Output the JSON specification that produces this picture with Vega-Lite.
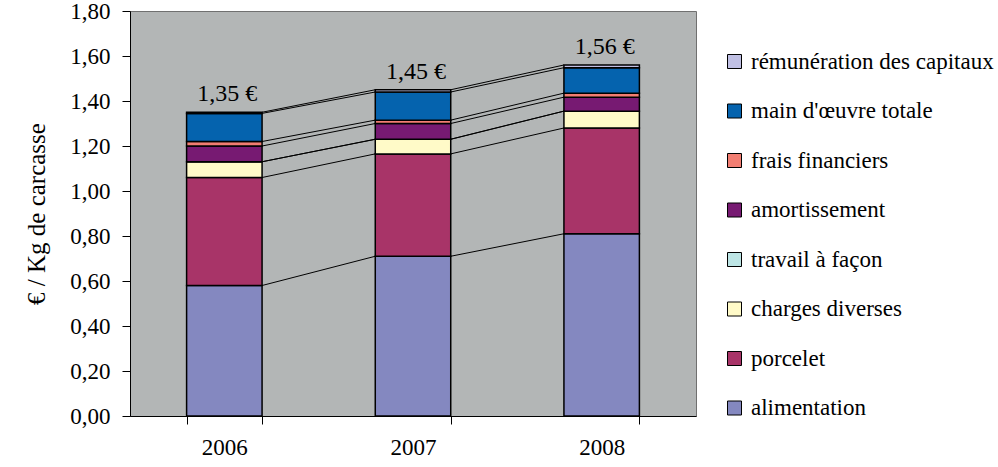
{
  "$schema": "https://vega.github.io/schema/vega-lite/v6.json",
  "width": 566,
  "height": 405,
  "autosize": "none",
  "padding": {"left": 130, "top": 11, "right": 302, "bottom": 51},
  "background": "#ffffff",
  "data": {
    "values": [
      {"annee": "2006", "serie": "alimentation", "ordre": 1, "valeur": 0.58},
      {"annee": "2006", "serie": "porcelet", "ordre": 2, "valeur": 0.48},
      {"annee": "2006", "serie": "charges diverses", "ordre": 3, "valeur": 0.07},
      {"annee": "2006", "serie": "travail à façon", "ordre": 4, "valeur": 0.0},
      {"annee": "2006", "serie": "amortissement", "ordre": 5, "valeur": 0.07},
      {"annee": "2006", "serie": "frais financiers", "ordre": 6, "valeur": 0.02},
      {"annee": "2006", "serie": "main d'œuvre totale", "ordre": 7, "valeur": 0.125},
      {"annee": "2006", "serie": "rémunération des capitaux", "ordre": 8, "valeur": 0.005},
      {"annee": "2007", "serie": "alimentation", "ordre": 1, "valeur": 0.71},
      {"annee": "2007", "serie": "porcelet", "ordre": 2, "valeur": 0.455},
      {"annee": "2007", "serie": "charges diverses", "ordre": 3, "valeur": 0.065},
      {"annee": "2007", "serie": "travail à façon", "ordre": 4, "valeur": 0.0},
      {"annee": "2007", "serie": "amortissement", "ordre": 5, "valeur": 0.07},
      {"annee": "2007", "serie": "frais financiers", "ordre": 6, "valeur": 0.015},
      {"annee": "2007", "serie": "main d'œuvre totale", "ordre": 7, "valeur": 0.125},
      {"annee": "2007", "serie": "rémunération des capitaux", "ordre": 8, "valeur": 0.01},
      {"annee": "2008", "serie": "alimentation", "ordre": 1, "valeur": 0.81},
      {"annee": "2008", "serie": "porcelet", "ordre": 2, "valeur": 0.47},
      {"annee": "2008", "serie": "charges diverses", "ordre": 3, "valeur": 0.075},
      {"annee": "2008", "serie": "travail à façon", "ordre": 4, "valeur": 0.0},
      {"annee": "2008", "serie": "amortissement", "ordre": 5, "valeur": 0.062},
      {"annee": "2008", "serie": "frais financiers", "ordre": 6, "valeur": 0.018},
      {"annee": "2008", "serie": "main d'œuvre totale", "ordre": 7, "valeur": 0.113},
      {"annee": "2008", "serie": "rémunération des capitaux", "ordre": 8, "valeur": 0.012}
    ]
  },
  "transform": [
    {"stack": "valeur", "groupby": ["annee"], "sort": [{"field": "ordre", "order": "ascending"}], "as": ["y0", "y1"]}
  ],
  "layer": [
    {
      "transform": [
        {"window": [{"op": "lead", "field": "y1", "as": "y1n"}, {"op": "lead", "field": "annee", "as": "anneeN"}], "groupby": ["serie"], "sort": [{"field": "annee", "order": "ascending"}], "frame": [null, null]},
        {"filter": "datum.anneeN != null"}
      ],
      "mark": {"type": "rule", "stroke": "#000000", "strokeWidth": 1},
      "encoding": {
        "x": {"field": "annee", "type": "ordinal", "bandPosition": 1, "scale": {"paddingInner": 0.6, "paddingOuter": 0.3},
              "axis": {"title": null, "labelAngle": 0, "tickBand": "extent", "labelPadding": 12}},
        "x2": {"field": "anneeN", "bandPosition": 0},
        "y": {"field": "y1", "type": "quantitative", "scale": {"domain": [0, 1.8], "nice": false},
              "axis": {"title": "€ / Kg de carcasse", "values": [0, 0.2, 0.4, 0.6, 0.8, 1.0, 1.2, 1.4, 1.6, 1.8], "labelExpr": "replace(format(datum.value, '.2f'), '.', ',')", "labelPadding": 12, "titlePadding": 20}},
        "y2": {"field": "y1n"}
      }
    },
    {
      "mark": {"type": "bar", "stroke": "#000000", "strokeWidth": 1.5},
      "encoding": {
        "x": {"field": "annee", "type": "ordinal", "scale": {"paddingInner": 0.6, "paddingOuter": 0.3},
              "axis": {"title": null, "labelAngle": 0, "tickBand": "extent", "labelPadding": 12}},
        "y": {"field": "y0", "type": "quantitative", "scale": {"domain": [0, 1.8], "nice": false},
              "axis": {"title": "€ / Kg de carcasse", "values": [0, 0.2, 0.4, 0.6, 0.8, 1.0, 1.2, 1.4, 1.6, 1.8], "labelExpr": "replace(format(datum.value, '.2f'), '.', ',')", "labelPadding": 12, "titlePadding": 20}},
        "y2": {"field": "y1"},
        "color": {
          "field": "serie", "type": "nominal",
          "scale": {
            "domain": ["rémunération des capitaux", "main d'œuvre totale", "frais financiers", "amortissement", "travail à façon", "charges diverses", "porcelet", "alimentation"],
            "range": ["#C0C0E4", "#0563AE", "#F27E72", "#771A72", "#BDE5E5", "#FFFAC8", "#A83468", "#8488C0"]
          },
          "legend": {"title": null, "orient": "none", "legendX": 593, "legendY": 39, "symbolType": "square", "symbolSize": 196, "symbolStrokeColor": "#000000", "symbolStrokeWidth": 1, "symbolOpacity": 1, "labelFontSize": 23, "labelFont": "Liberation Serif", "labelColor": "#000000", "rowPadding": 25.5, "labelOffset": 5, "labelLimit": 400}
        }
      }
    },
    {
      "transform": [
        {"aggregate": [{"op": "sum", "field": "valeur", "as": "total"}], "groupby": ["annee"]}
      ],
      "mark": {"type": "text", "baseline": "alphabetic", "dy": -11, "dx": 3, "fontSize": 24, "font": "Liberation Serif", "color": "#000000",
               "text": {"expr": "replace(format(datum.total, '.2f'), '.', ',') + ' €'"}},
      "encoding": {
        "x": {"field": "annee", "type": "ordinal", "scale": {"paddingInner": 0.6, "paddingOuter": 0.3},
              "axis": {"title": null, "labelAngle": 0, "tickBand": "extent", "labelPadding": 12}},
        "y": {"field": "total", "type": "quantitative", "scale": {"domain": [0, 1.8], "nice": false},
              "axis": {"title": "€ / Kg de carcasse", "values": [0, 0.2, 0.4, 0.6, 0.8, 1.0, 1.2, 1.4, 1.6, 1.8], "labelExpr": "replace(format(datum.value, '.2f'), '.', ',')", "labelPadding": 12, "titlePadding": 20}}
      }
    }
  ],
  "config": {
    "font": "Liberation Serif",
    "view": {"fill": "#B3B6B6", "stroke": "#707070", "strokeWidth": 1},
    "axis": {
      "labelFont": "Liberation Serif", "labelFontSize": 23, "labelColor": "#000000",
      "domainColor": "#000000", "domainWidth": 1, "tickColor": "#000000", "tickSize": 8, "grid": false,
      "titleFont": "Liberation Serif", "titleFontWeight": "normal", "titleColor": "#000000", "titleFontSize": 25
    }
  }
}
